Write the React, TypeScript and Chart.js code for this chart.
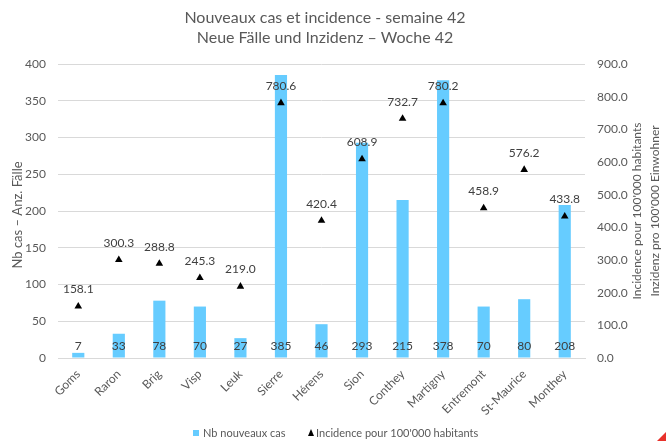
import React, { useEffect, useRef } from "react";
import { Chart, registerables } from "chart.js";
Chart.register(...registerables);

const districts = ["Goms", "Raron", "Brig", "Visp", "Leuk", "Sierre", "Hérens", "Sion", "Conthey", "Martigny", "Entremont", "St-Maurice", "Monthey"];
const newCases = [7, 33, 78, 70, 27, 385, 46, 293, 215, 378, 70, 80, 208];
const incidence = [158.1, 300.3, 288.8, 245.3, 219.0, 780.6, 420.4, 608.9, 732.7, 780.2, 458.9, 576.2, 433.8];
const titleLines = ["Nouveaux cas et incidence - semaine 42", "Neue Fälle und Inzidenz – Woche 42"];
const leftTitle = "Nb cas – Anz. Fälle";
const rightTitleLines = ["Incidence pour 100'000 habitants", "Inzidenz pro 100'000 Einwohner"];
const legendLabels = ["Nb nouveaux cas", "Incidence pour 100'000 habitants"];

const FONT = "Lato";
const GREY = "#595959";
const DARK = "#404040";
const BLUE = "#66CCFF";

const overlay = {
  id: "overlay",
  afterDatasetsDraw(chart: any) {
    const ctx = chart.ctx;
    ctx.save();
    ctx.font = `12px ${FONT}`;
    ctx.fillStyle = DARK;
    ctx.textAlign = "center";
    ctx.textBaseline = "middle";
    const barMeta = chart.getDatasetMeta(0);
    const zeroY = chart.scales.y.getPixelForValue(0);
    barMeta.data.forEach((el: any, i: number) => {
      ctx.fillText(String(newCases[i]), el.x, zeroY - 12);
    });
    const lineMeta = chart.getDatasetMeta(1);
    lineMeta.data.forEach((el: any, i: number) => {
      ctx.fillText(incidence[i].toFixed(1), el.x, el.y - 17);
    });
    ctx.restore();
  },
  afterDraw(chart: any) {
    const ctx = chart.ctx;
    const area = chart.chartArea;
    ctx.save();
    ctx.fillStyle = GREY;
    ctx.textAlign = "center";
    ctx.textBaseline = "middle";
    ctx.font = `16px ${FONT}`;
    ctx.fillText(titleLines[0], 325, 18);
    ctx.fillText(titleLines[1], 325, 38);

    const midY = (area.top + area.bottom) / 2;
    ctx.font = `13px ${FONT}`;
    ctx.save();
    ctx.translate(18, midY + 4);
    ctx.rotate(-Math.PI / 2);
    ctx.fillText(leftTitle, 0, 0);
    ctx.restore();
    ctx.font = `12px ${FONT}`;
    ctx.save();
    ctx.translate(637, midY);
    ctx.rotate(-Math.PI / 2);
    ctx.fillText(rightTitleLines[0], 0, 0);
    ctx.fillText(rightTitleLines[1], 0, 18);
    ctx.restore();

    // legend
    ctx.font = `11px ${FONT}`;
    ctx.textAlign = "left";
    const ly = 433;
    ctx.fillStyle = BLUE;
    ctx.fillRect(193, ly - 3, 6, 6);
    ctx.fillStyle = GREY;
    ctx.fillText(legendLabels[0], 203, ly);
    ctx.fillStyle = "#000";
    ctx.beginPath();
    ctx.moveTo(308, ly + 3);
    ctx.lineTo(314, ly + 3);
    ctx.lineTo(311, ly - 4);
    ctx.closePath();
    ctx.fill();
    ctx.fillStyle = GREY;
    ctx.fillText(legendLabels[1], 316, ly);
    ctx.restore();
  },
};

export default function App() {
  const ref = useRef<HTMLCanvasElement>(null);
  useEffect(() => {
    document.body.style.margin = "0";
    const chart = new Chart(ref.current!, {
      type: "bar",
      data: {
        labels: districts,
        datasets: [
          {
            type: "bar",
            label: legendLabels[0],
            data: newCases,
            yAxisID: "y",
            backgroundColor: BLUE,
            barPercentage: 0.3,
            categoryPercentage: 1,
            order: 2,
          },
          {
            type: "line",
            label: legendLabels[1],
            data: incidence,
            yAxisID: "y1",
            showLine: false,
            pointStyle: "triangle",
            pointRadius: 4.4,
            backgroundColor: "#000",
            borderColor: "#000",
            borderWidth: 0,
            order: 1,
          } as any,
        ],
      },
      options: {
        responsive: false,
        animation: false,
        events: [],
        layout: { padding: { top: 64, left: 0, right: 0, bottom: 0 } },
        plugins: { legend: { display: false }, title: { display: false }, tooltip: { enabled: false } },
        scales: {
          x: {
            grid: { display: false, drawTicks: false },
            border: { display: true, color: "#D9D9D9" },
            ticks: { color: GREY, font: { family: FONT, size: 12 }, minRotation: 45, maxRotation: 45, padding: 9, autoSkip: false },
            afterFit: (s: any) => { s.height = 83; },
          },
          y: {
            position: "left",
            min: 0,
            max: 400,
            grid: { color: "#D9D9D9", drawTicks: false },
            border: { display: false },
            ticks: { stepSize: 50, color: GREY, font: { family: FONT, size: 12 }, padding: 12 },
            afterFit: (s: any) => { s.width = 58; },
          },
          y1: {
            position: "right",
            min: 0,
            max: 900,
            grid: { display: false, drawTicks: false },
            border: { display: false },
            ticks: { stepSize: 100, color: GREY, font: { family: FONT, size: 12 }, padding: 12, callback: (v: any) => Number(v).toFixed(1) },
            afterFit: (s: any) => { s.width = 81; },
          },
        },
      },
      plugins: [overlay],
    } as any);
    return () => chart.destroy();
  }, []);
  return (
    <div style={{ position: "relative", width: 666, height: 441, background: "#fff" }}>
      <canvas ref={ref} width={666} height={441} />
      <div style={{ position: "absolute", right: 0, bottom: 0, width: 0, height: 0, borderLeft: "9px solid transparent", borderBottom: "9px solid #E8312A" }} />
    </div>
  );
}
